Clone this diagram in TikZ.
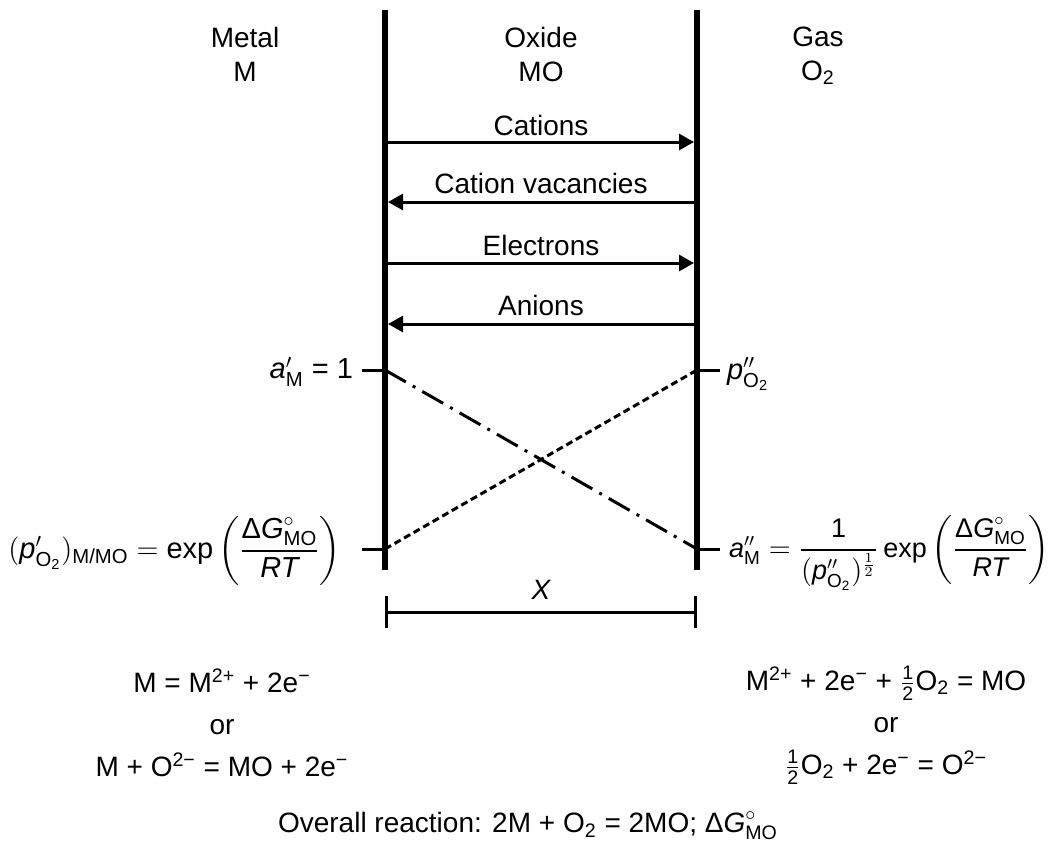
\documentclass[tikz,border=0pt]{standalone}
\usepackage{amsmath}
\usepackage{fontspec}
\setmainfont{Liberation Sans}
\usetikzlibrary{arrows.meta}

\newcommand{\vt}[1]{\text{\itshape #1}}
\newcommand{\dGmo}{\text{Δ}\vt{G}^{\circ}_{\text{MO}}}

\tikzset{
  wall/.style={line width=3pt},
  flow/.style={line width=1.5pt,-{Triangle[length=7.5pt,width=8pt]}},
  tick/.style={line width=1.5pt},
  chain/.style={line width=1.5pt,dash pattern=on 12pt off 4pt on 1.5pt off 4pt},
  dots/.style={line width=1.5pt,dash pattern=on 3.5pt off 2pt},
  head/.style={font=\fontsize{14}{17}\selectfont,align=center},
  eq/.style={font=\fontsize{14.5}{17}\selectfont},
  rxn/.style={font=\fontsize{14}{21}\selectfont,align=center},
}

\begin{document}
\begin{tikzpicture}[x=0.5pt,y=-0.5pt]
\useasboundingbox (0,0) rectangle (1052,859);

\coordinate (lt) at (385,10);
\coordinate (lb) at (385,570);
\coordinate (rt) at (697,10);
\coordinate (rb) at (697,570);
\draw[wall] (lt) -- (lb);
\draw[wall] (rt) -- (rb);

\node[head,anchor=north] (metal) at (245,20) {Metal\\M};
\node[head,anchor=north] (oxide) at (541,20) {Oxide\\MO};
\node[head,anchor=north] (gas) at (818,20) {Gas\\O\textsubscript{2}};

% fluxes through the scale
\foreach \y/\n in {142/cat,202/vac,263/ele,324/ani} {
  \coordinate (\n-l) at (388,\y);
  \coordinate (\n-r) at (694,\y);
}
\node[head] (catlab) at (541,125) {Cations};
\node[head] (vaclab) at (541,183) {Cation vacancies};
\node[head] (elelab) at (541,245) {Electrons};
\node[head] (anilab) at (541,305) {Anions};
\draw[flow] (cat-l) -- (cat-r);
\draw[flow] (vac-r) -- (vac-l);
\draw[flow] (ele-l) -- (ele-r);
\draw[flow] (ani-r) -- (ani-l);

% boundary values
\coordinate (l-top) at (385,370);
\coordinate (l-bot) at (385,549);
\coordinate (r-top) at (697,370);
\coordinate (r-bot) at (697,549);
\coordinate (tk1) at (362,370);
\coordinate (tk2) at (720,370);
\coordinate (tk3) at (362,549);
\coordinate (tk4) at (720,549);
\draw[tick] (tk1) -- (l-top);
\draw[tick] (tk2) -- (r-top);
\draw[tick] (tk3) -- (l-bot);
\draw[tick] (tk4) -- (r-bot);

\node[eq,anchor=east] (aml) at (360,372) {$\vt{a}'_{\text{M}}$ = 1};
\node[eq,anchor=west] (por) at (720,374) {$\vt{p}''_{\text{O}_\text{2}}$};
\node[eq,anchor=east] (pol) at (348,551)
  {$(\vt{p}'_{\text{O}_\text{2}})_{\text{M/MO}} = \text{exp}\left(\dfrac{\dGmo}{\vt{RT}}\right)$};
\node[eq,anchor=west,font=\fontsize{13.5}{16}\selectfont] (amr) at (722,553)
  {$\vt{a}''_{\text{M}} = \dfrac{\text{1}}{(\vt{p}''_{\text{O}_\text{2}})^{\frac{1}{2}}}\,\text{exp}\left(\dfrac{\dGmo}{\vt{RT}}\right)$};

\draw[chain] (l-top) -- (r-bot);
\draw[dots] (l-bot) -- (r-top);

% scale thickness
\coordinate (xl) at (385,612);
\coordinate (xr) at (697,612);
\draw[tick,{Bar[width=16pt]}-{Bar[width=16pt]}] (xl) -- (xr);
\node[head] (xlab) at (541,590) {\itshape X};

\node[rxn] (left) at (222,723)
  {M = M\textsuperscript{2+} + 2e\textsuperscript{−}\\or\\M + O\textsuperscript{2−} = MO + 2e\textsuperscript{−}};
\node[rxn] (right) at (886,725)
  {M\textsuperscript{2+} + 2e\textsuperscript{−} + $\frac{\text{1}}{\text{2}}$O\textsubscript{2} = MO\\or\\$\frac{\text{1}}{\text{2}}$O\textsubscript{2} + 2e\textsuperscript{−} = O\textsuperscript{2−}};
\node[head] (overall) at (528,826)
  {Overall reaction: 2M + O\textsubscript{2} = 2MO; $\dGmo$};
\end{tikzpicture}
\end{document}
